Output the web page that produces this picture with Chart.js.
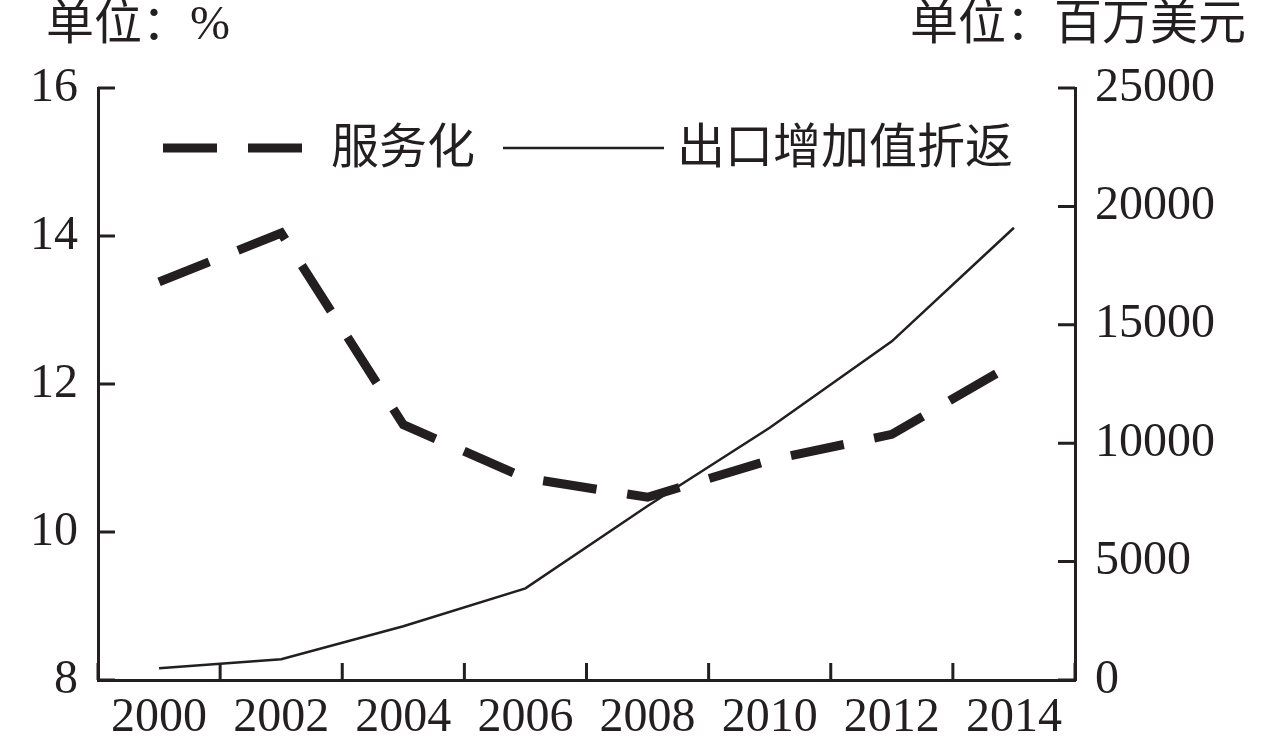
<!DOCTYPE html>
<html>
<head>
<meta charset="utf-8">
<script src="https://cdn.jsdelivr.net/npm/chart.js@4/dist/chart.umd.min.js"></script>
<style>
  html, body { margin: 0; padding: 0; background: #fff; }
  #wrap { width: 1280px; height: 751px; position: relative; }
</style>
</head>
<body>
<div id="wrap"><canvas id="chart"></canvas></div>
<script>
// data
const years = ['2000', '2002', '2004', '2006', '2008', '2010', '2012', '2014'];
const servitization = [13.38, 14.04, 11.45, 10.73, 10.47, 10.97, 11.32, 12.28];   // 服务化, %
const returnedValue = [500, 880, 2270, 3870, 7350, 10650, 14300, 19100];        // 出口增加值折返, 百万美元
const leftTicks = [8, 10, 12, 14, 16];
const rightTicks = [0, 5000, 10000, 15000, 20000, 25000];
const leftUnit = '单位：%';
const rightUnit = '单位：百万美元';

const ink = '#231f20';
const numFont = { family: '"Liberation Serif", "Times New Roman", serif', size: 48 };
const cjkFont = '48px "Liberation Serif", "Noto Sans CJK SC", sans-serif';

// short tick marks pointing into the plot
const innerTicks = {
    id: 'innerTicks',
    afterDraw(chart) {
        const ctx = chart.ctx;
        const area = chart.chartArea;
        const x = chart.scales.x, y = chart.scales.y, y1 = chart.scales.y1;
        const len = 17;
        ctx.save();
        ctx.strokeStyle = ink;
        ctx.lineWidth = 3;
        ctx.beginPath();
        for (let i = 0; i <= years.length; i++) {
            const px = x.getPixelForValue(i - 0.5);
            ctx.moveTo(px, area.bottom);
            ctx.lineTo(px, area.bottom - len);
        }
        y.ticks.forEach(t => {
            const py = y.getPixelForValue(t.value);
            ctx.moveTo(area.left, py);
            ctx.lineTo(area.left + len, py);
        });
        y1.ticks.forEach(t => {
            const py = y1.getPixelForValue(t.value);
            ctx.moveTo(area.right, py);
            ctx.lineTo(area.right - len, py);
        });
        ctx.stroke();
        ctx.restore();
    }
};

// unit captions above both axes
const unitLabels = {
    id: 'unitLabels',
    afterDraw(chart) {
        const ctx = chart.ctx;
        const area = chart.chartArea;
        ctx.save();
        ctx.fillStyle = ink;
        ctx.font = cjkFont;
        ctx.textBaseline = 'middle';
        ctx.textAlign = 'left';
        ctx.fillText(leftUnit, area.left - 52, 26);
        ctx.textAlign = 'right';
        ctx.fillText(rightUnit, chart.width - 34, 26);
        ctx.restore();
    }
};

// legend sitting inside the plot, drawn from the dataset styles
const insideLegend = {
    id: 'insideLegend',
    afterDraw(chart) {
        const ctx = chart.ctx;
        const area = chart.chartArea;
        const cy = area.top + 60;
        const items = [
            { ds: chart.data.datasets[0], x: area.left + 65, w: 139, gap: 29 },
            { ds: chart.data.datasets[1], x: area.left + 405, w: 161, gap: 13 }
        ];
        ctx.save();
        items.forEach(it => {
            ctx.strokeStyle = it.ds.borderColor;
            ctx.lineWidth = it.ds.borderWidth;
            ctx.setLineDash(it.ds.borderDash || []);
            ctx.beginPath();
            ctx.moveTo(it.x, cy);
            ctx.lineTo(it.x + it.w, cy);
            ctx.stroke();
            ctx.setLineDash([]);
            ctx.fillStyle = ink;
            ctx.font = cjkFont;
            ctx.textAlign = 'left';
            ctx.textBaseline = 'middle';
            ctx.fillText(it.ds.label, it.x + it.w + it.gap, cy + 2);
        });
        ctx.restore();
    }
};

new Chart(document.getElementById('chart'), {
    type: 'line',
    data: {
        labels: years,
        datasets: [{
            label: '服务化',
            data: servitization,
            yAxisID: 'y',
            borderColor: ink,
            borderWidth: 9,
            borderDash: [54, 31],
            pointRadius: 0,
            tension: 0
        }, {
            label: '出口增加值折返',
            data: returnedValue,
            yAxisID: 'y1',
            borderColor: ink,
            borderWidth: 2.5,
            pointRadius: 0,
            tension: 0
        }]
    },
    options: {
        responsive: true,
        maintainAspectRatio: false,
        animation: false,
        layout: { padding: { top: 88, left: 0, right: 0, bottom: 0 } },
        plugins: {
            legend: { display: false },
            tooltip: { enabled: false }
        },
        scales: {
            x: {
                offset: true,
                grid: { display: true, drawOnChartArea: false, drawTicks: false, offset: true },
                border: { display: true, width: 3, color: ink },
                ticks: { color: ink, font: numFont, padding: 10, maxRotation: 0, autoSkip: false },
                afterFit: s => { s.height = 71; }
            },
            y: {
                position: 'left',
                min: 8,
                max: 16,
                afterBuildTicks: s => { s.ticks = leftTicks.map(v => ({ value: v })); },
                grid: { display: true, drawOnChartArea: false, drawTicks: false },
                border: { display: true, width: 3, color: ink },
                ticks: { color: ink, font: numFont, padding: 20, callback: v => String(v) },
                afterFit: s => { s.width = 98; }
            },
            y1: {
                position: 'right',
                min: 0,
                max: 25000,
                afterBuildTicks: s => { s.ticks = rightTicks.map(v => ({ value: v })); },
                grid: { display: true, drawOnChartArea: false, drawTicks: false },
                border: { display: true, width: 3, color: ink },
                ticks: { color: ink, font: numFont, padding: 20, callback: v => String(v) },
                afterFit: s => { s.width = 205; }
            }
        }
    },
    plugins: [innerTicks, unitLabels, insideLegend]
});
</script>
</body>
</html>
